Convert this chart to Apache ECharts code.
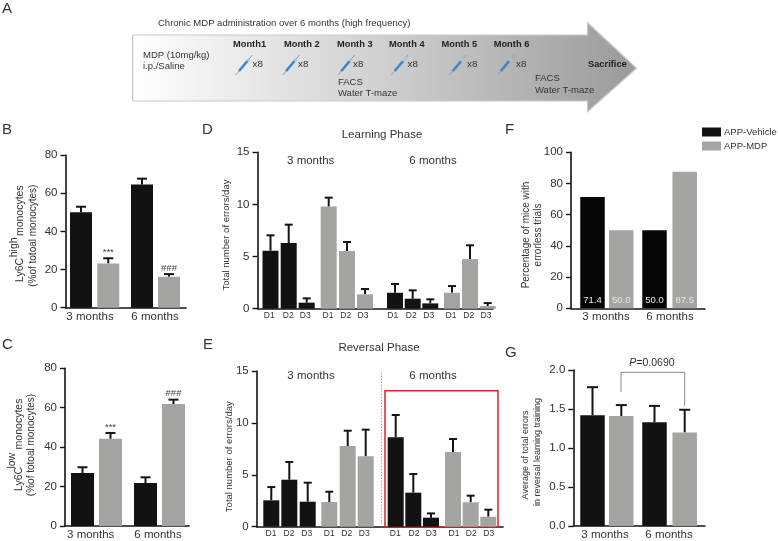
<!DOCTYPE html>
<html>
<head>
<meta charset="utf-8">
<style>
  html, body { margin: 0; padding: 0; background: #fff; }
  #chart { width: 778px; height: 541px; }
</style>
<script src="https://cdn.jsdelivr.net/npm/echarts@6/dist/echarts.min.js"></script>
</head>
<body>
<div id="chart"></div>
<script>
// values
const months = ['3 months', '6 months'];
const days = ['D1', 'D2', 'D3', 'D1', 'D2', 'D3', 'D1', 'D2', 'D3', 'D1', 'D2', 'D3'];

const bVehicle = [50, 64.5];
const bVehicleErr = [52.9, 67.6];
const bMdp = [23.2, 16.2];
const bMdpErr = [25.9, 17.6];
const bMarks = ['***', '###'];

const cVehicle = [26.9, 21.8];
const cVehicleErr = [29.8, 24.7];
const cMdp = [44.2, 61.9];
const cMdpErr = [47.2, 64.1];
const cMarks = ['***', '###'];

const dVehicle = [5.56, 6.3, 0.58, 1.53, 0.96, 0.51];
const dVehicleErr = [7.04, 8.06, 0.99, 2.37, 1.76, 0.9];
const dMdp = [9.79, 5.53, 1.38, 1.53, 4.76, 0.26];
const dMdpErr = [10.65, 6.4, 1.89, 2.17, 6.08, 0.54];

const eVehicle = [2.54, 4.53, 2.41, 8.61, 3.28, 0.87];
const eVehicleErr = [3.82, 6.23, 4.24, 10.76, 5.08, 1.28];
const eMdp = [2.38, 7.77, 6.78, 7.2, 2.35, 0.96];
const eMdpErr = [3.37, 9.25, 9.35, 8.45, 2.99, 1.64];

const fVehicle = [71.4, 50];
const fMdp = [50, 87.5];

const gVehicle = [1.42, 1.33];
const gVehicleErr = [1.78, 1.54];
const gMdp = [1.41, 1.2];
const gMdpErr = [1.55, 1.49];

const timeline = ['Month1', 'Month 2', 'Month 3', 'Month 4', 'Month 5', 'Month 6'];

const FONT = '"Liberation Sans", Arial, sans-serif';
const INK = '#141414';
const BLACK_BAR = '#121212';
const GRAY_BAR = '#a4a4a2';

// one entry per panel: where the plot sits and how its slots are spaced
const panels = [
  { left: 65.5, top: 155, width: 120.5, height: 152.7, max: 80, step: 20, barW: 22, capW: 10,
    vSlots: [15.5, 76.5], mSlots: [42.75, 103.5], labels: months, labelAt: [24.5, 89.5], labelSize: 11.5,
    v: bVehicle, vErr: bVehicleErr, m: bMdp, mErr: bMdpErr, marks: bMarks },
  { left: 65, top: 368.3, width: 124, height: 157.7, max: 80, step: 20, barW: 23, capW: 10,
    vSlots: [17.5, 80.5], mSlots: [45.5, 108.5], labels: months, labelAt: [25.7, 93], labelSize: 11.5,
    v: cVehicle, vErr: cVehicleErr, m: cMdp, mErr: cMdpErr, marks: cMarks },
  { left: 257.5, top: 152.3, width: 235.5, height: 156.4, max: 15, step: 5, barW: 16, capW: 8,
    vSlots: [13, 31.2, 49.2, 137.5, 155.2, 172.8], mSlots: [71.2, 89.5, 107.5, 194.5, 212.5, 230.2],
    labels: days, labelAt: [11.8, 30.8, 47.8, 70.5, 88.2, 105.5, 135.2, 153.8, 171.2, 193.5, 211.2, 228.5], labelSize: 8.5,
    v: dVehicle, vErr: dVehicleErr, m: dMdp, mErr: dMdpErr },
  { left: 256.7, top: 371, width: 246.3, height: 155.7, max: 15, step: 5, barW: 16, capW: 8,
    vSlots: [14.6, 32.6, 51, 139, 156.6, 174.3], mSlots: [72.6, 91, 109, 196.3, 214, 231.6],
    labels: days, labelAt: [14.3, 32.3, 50, 72.6, 90, 107.6, 138.6, 157.3, 174.6, 197.3, 214.6, 232], labelSize: 8.5,
    v: eVehicle, vErr: eVehicleErr, m: eMdp, mErr: eMdpErr },
  { left: 571, top: 152.3, width: 134, height: 156, max: 100, step: 20, barW: 24.5,
    vSlots: [21.5, 83.5], mSlots: [50.3, 113.7], labels: months, labelAt: [35, 99], labelSize: 11.5,
    v: fVehicle, m: fMdp, inside: true },
  { left: 573.3, top: 370, width: 131.7, height: 156.7, max: 2, step: 0.5, barW: 24.5, capW: 11, digits: 1,
    vSlots: [19.2, 81.2], mSlots: [48, 111.4], labels: months, labelAt: [31.7, 95.7], labelSize: 11.5,
    v: gVehicle, vErr: gVehicleErr, m: gMdp, mErr: gMdpErr }
];

function errorSeries(p, i, slots, tops, values, marks) {
  return {
    type: 'custom',
    xAxisIndex: i,
    yAxisIndex: i,
    z: 1,
    clip: false,
    silent: true,
    data: slots.map((s, k) => [s, values[k], tops[k]]),
    renderItem(params, api) {
      const base = api.coord([api.value(0), api.value(1)]);
      const top = api.coord([api.value(0), api.value(2)]);
      const line = { stroke: INK, lineWidth: 2 };
      const kids = [
        { type: 'line', shape: { x1: base[0], y1: base[1], x2: top[0], y2: top[1] }, style: line },
        { type: 'line', shape: { x1: top[0] - p.capW / 2, y1: top[1], x2: top[0] + p.capW / 2, y2: top[1] }, style: line }
      ];
      if (marks) {
        kids.push({
          type: 'text',
          style: { x: top[0], y: top[1] - 6, text: marks[params.dataIndex], align: 'center', verticalAlign: 'middle',
            fill: '#444', font: '9.5px ' + FONT }
        });
      }
      return { type: 'group', children: kids };
    }
  };
}

const grids = [], xAxes = [], yAxes = [], series = [];

panels.forEach((p, i) => {
  grids.push({ left: p.left, top: p.top, width: p.width, height: p.height });
  xAxes.push({
    type: 'value',
    gridIndex: i,
    min: 0,
    max: p.width,
    splitLine: { show: false },
    axisTick: { show: false },
    axisLine: { lineStyle: { color: INK, width: 1.6 } },
    axisLabel: {
      customValues: p.labelAt,
      formatter: (v) => p.labels[p.labelAt.indexOf(v)],
      hideOverlap: false,
      margin: p.labelSize > 10 ? 3 : 2,
      color: '#333',
      fontFamily: FONT,
      fontSize: p.labelSize
    }
  });
  yAxes.push({
    type: 'value',
    gridIndex: i,
    min: 0,
    max: p.max,
    interval: p.step,
    splitLine: { show: false },
    axisLine: { show: true, lineStyle: { color: INK, width: 1.6 } },
    axisTick: { show: true, length: 5, lineStyle: { color: INK, width: 1.4 } },
    axisLabel: {
      margin: 8,
      color: '#333',
      fontFamily: FONT,
      fontSize: 11.5,
      formatter: (v) => (p.digits ? v.toFixed(p.digits) : String(v))
    }
  });

  const insideLabel = (color) => ({
    show: true,
    position: 'insideBottom',
    distance: 3,
    color,
    fontFamily: FONT,
    fontSize: 9.5,
    formatter: (o) => o.value[1].toFixed(1)
  });

  const barV = {
    name: 'APP-Vehicle',
    type: 'bar',
    xAxisIndex: i,
    yAxisIndex: i,
    barWidth: p.barW,
    barGap: '-100%',
    z: 2,
    itemStyle: { color: p.inside ? '#050505' : BLACK_BAR },
    data: p.vSlots.map((s, k) => [s, p.v[k]])
  };
  const barM = {
    name: 'APP-MDP',
    type: 'bar',
    xAxisIndex: i,
    yAxisIndex: i,
    barWidth: p.barW,
    barGap: '-100%',
    z: 2,
    itemStyle: { color: GRAY_BAR },
    data: p.mSlots.map((s, k) => [s, p.m[k]])
  };
  if (p.inside) {
    barV.label = insideLabel('#e6e6e6');
    barM.label = insideLabel('#e6e6e6');
  }
  series.push(barV, barM);

  if (p.vErr) series.push(errorSeries(p, i, p.vSlots, p.vErr, p.v));
  if (p.mErr) series.push(errorSeries(p, i, p.mSlots, p.mErr, p.m, p.marks));
});

// red box and dotted divider in panel E
series[series.findIndex((s) => s.xAxisIndex === 3)].markArea = {
  silent: true,
  itemStyle: { color: 'transparent', borderColor: '#d9232b', borderWidth: 1.5 },
  data: [[{ xAxis: 128.3, yAxis: 0 }, { xAxis: 241.3, yAxis: 13.1 }]]
};
series[series.findIndex((s) => s.xAxisIndex === 3)].markLine = {
  silent: true,
  symbol: 'none',
  label: { show: false },
  lineStyle: { color: '#777', type: [1, 2], width: 1 },
  data: [{ xAxis: 124.3 }]
};

function txt(text, x, y, size, extra) {
  return {
    type: 'text',
    x,
    y,
    rotation: extra && extra.up ? Math.PI / 2 : 0,
    z: 20,
    style: {
      text,
      align: (extra && extra.align) || 'left',
      verticalAlign: 'middle',
      fill: (extra && extra.color) || '#333',
      font: ((extra && extra.weight) || 'normal') + ' ' + size + 'px ' + FONT
    }
  };
}
const up = { up: true, align: 'center' };
const mid = { align: 'center' };

// little syringe for the timeline
function syringe(x) {
  const y = 75, dx = 16.7, dy = -20;
  const seg = (a, b, color, w) => ({
    type: 'line',
    z: 15,
    shape: { x1: x + dx * a, y1: y + dy * a, x2: x + dx * b, y2: y + dy * b },
    style: { stroke: color, lineWidth: w }
  });
  return [seg(0, 1, '#9a9a9a', 1), seg(0.2, 0.7, '#3f86c8', 2.6), seg(0.7, 0.82, '#b8c4cc', 2.6)];
}

const graphic = [
  {
    type: 'polygon',
    z: 10,
    shape: { points: [[132.6, 35], [587.5, 35], [587.5, 22.7], [636.5, 68.3], [587.5, 111.7], [587.5, 101], [132.6, 101]] },
    style: {
      stroke: '#c9c9c9',
      lineWidth: 1.2,
      fill: {
        type: 'linear', x: 0, y: 0, x2: 1, y2: 0,
        colorStops: [{ offset: 0, color: '#ffffff' }, { offset: 0.5, color: '#cfcfcf' }, { offset: 1, color: '#9a9a9a' }]
      }
    }
  },
  txt('A', 2, 8.5, 15),
  txt('B', 2, 130, 15),
  txt('C', 2, 345, 15),
  txt('D', 202, 130, 15),
  txt('E', 203, 345, 15),
  txt('F', 505, 130, 15),
  txt('G', 505, 353, 15),
  txt('Chronic MDP administration over 6 months (high frequency)', 158, 23, 9.5),
  txt('MDP (10mg/kg)', 143, 55.3, 9.5),
  txt('i.p./Saline', 143, 66, 9.5),
  txt('FACS', 338, 82, 9.5),
  txt('Water T-maze', 338, 93.7, 9.5),
  txt('FACS', 535, 78.3, 9.5),
  txt('Water T-maze', 535, 90.3, 9.5),
  txt('Sacrifice', 588, 64.7, 9.3, { weight: 'bold', color: '#222' }),
  txt('Learning Phase', 382, 134.7, 11.5, mid),
  txt('3 months', 310.7, 161, 11.5, mid),
  txt('6 months', 433, 161, 11.5, mid),
  txt('Reversal Phase', 379, 348.3, 11.5, mid),
  txt('3 months', 311, 376, 11.5, mid),
  txt('6 months', 433, 376, 11.5, mid),
  // y axis titles
  txt('Ly6C', 20, 270, 10.5, up),
  txt('high', 14, 247.3, 10.5, up),
  txt('monocytes', 20.5, 210.7, 10.5, up),
  txt('(%of totoal monocytes)', 33, 235.7, 10, up),
  txt('Ly6C', 19, 479, 10.5, up),
  txt('low', 11.7, 460.7, 10.5, up),
  txt('monocytes', 19, 424, 10.5, up),
  txt('(%of totoal monocytes)', 31.7, 445, 10, up),
  txt('Total number of errors/day', 226, 235, 9.5, up),
  txt('Total number of errors/day', 229, 456.7, 9.5, up),
  txt('Percentage of mice with', 526, 235, 10, up),
  txt('errorless trials', 538, 235, 10, up),
  txt('Average of total errors', 525.7, 455, 9, up),
  txt('in reversal learning training', 537.7, 452, 9, up),
  // P value bracket in panel G
  {
    type: 'polyline',
    z: 20,
    shape: { points: [[621, 392], [621, 372.3], [684.7, 372.3], [684.7, 406]] },
    style: { stroke: '#888', lineWidth: 1, fill: null }
  },
  {
    type: 'text',
    x: 652,
    y: 363,
    z: 20,
    style: {
      text: '{p|P}{n|=0.0690}',
      align: 'center',
      verticalAlign: 'middle',
      rich: {
        p: { font: 'italic 10.5px ' + FONT, fill: '#333' },
        n: { font: '10.5px ' + FONT, fill: '#333' }
      }
    }
  }
];

// months, syringes and x8 on the timeline
const monthAt = [233, 284, 337, 389, 441.5, 493.7];
const syringeAt = [235.7, 282.8, 338, 391.4, 449.5, 497.5];
const doseAt = [252.5, 298, 353, 407.5, 467, 516];
timeline.forEach((m, i) => {
  graphic.push(txt(m, monthAt[i], 44, 9.3, { weight: 'bold', color: '#222' }));
  graphic.push(...syringe(syringeAt[i]));
  graphic.push(txt('x8', doseAt[i], 64.3, 9.8));
});

const chart = echarts.init(document.getElementById('chart'));
chart.setOption({
  animation: false,
  backgroundColor: '#fff',
  legend: {
    left: 702,
    top: 127,
    orient: 'vertical',
    icon: 'rect',
    itemWidth: 19,
    itemHeight: 9,
    itemGap: 4,
    selectedMode: false,
    padding: 0,
    data: ['APP-Vehicle', 'APP-MDP'],
    textStyle: { fontFamily: FONT, fontSize: 9.5, color: '#333', padding: [0, 0, 0, -2] }
  },
  grid: grids,
  xAxis: xAxes,
  yAxis: yAxes,
  series,
  graphic
});
</script>
</body>
</html>
